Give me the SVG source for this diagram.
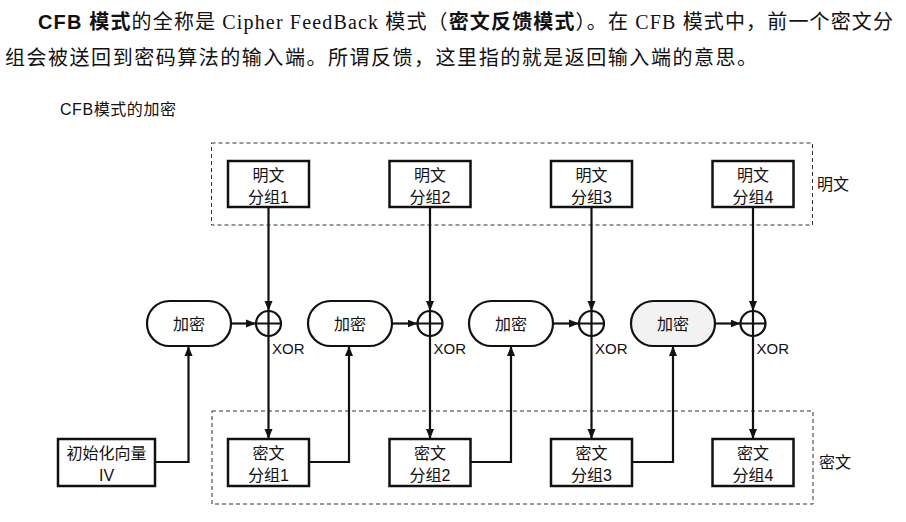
<svg xmlns="http://www.w3.org/2000/svg" width="906" height="522" viewBox="0 0 906 522">
<style>
.t{font-family:"Liberation Sans","Noto Sans CJK SC",sans-serif;fill:#111}
.p{font-family:"Liberation Serif","Noto Sans CJK SC",serif;font-size:20px;fill:#111}
.b{font-weight:bold;font-family:"Liberation Sans","Noto Sans CJK SC",sans-serif}
.box{fill:#fff;stroke:#111;stroke-width:2.5}
.enc{fill:#fff;stroke:#111;stroke-width:2.2}
.dash{fill:none;stroke:#333;stroke-width:1;stroke-dasharray:4 3}
.ln{fill:none;stroke:#111;stroke-width:2.2}
.lbl{font-size:16px;text-anchor:middle}
</style>
<defs>
<marker id="ah" viewBox="0 0 10 10" refX="10" refY="5" markerWidth="10" markerHeight="10" markerUnits="userSpaceOnUse" orient="auto">
<path d="M0,1 L10,5 L0,9 Z" fill="#111"/>
</marker>
</defs>
<rect width="906" height="522" fill="#fff"/>
<text class="p" x="38" y="29" textLength="855" lengthAdjust="spacing"><tspan class="b">CFB 模式</tspan>的全称是 Cipher FeedBack 模式（<tspan class="b">密文反馈模式</tspan>）。在 CFB 模式中，前一个密文分</text>
<text class="p" x="5" y="65" textLength="752" lengthAdjust="spacing">组会被送回到密码算法的输入端。所谓反馈，这里指的就是返回输入端的意思。</text>
<text class="t" x="60" y="115" font-size="16" textLength="116" lengthAdjust="spacing">CFB模式的加密</text>

<rect class="dash" x="211.5" y="143" width="601" height="82"/>
<rect class="dash" x="212" y="411" width="601" height="93"/>
<text class="t" x="817" y="190" font-size="16">明文</text>
<text class="t" x="819" y="468" font-size="16">密文</text>

<g id="connectors">
<path class="ln" d="M268.5,207 V311" marker-end="url(#ah)"/>
<path class="ln" d="M430,207 V311" marker-end="url(#ah)"/>
<path class="ln" d="M591.5,207 V311" marker-end="url(#ah)"/>
<path class="ln" d="M753,207 V311" marker-end="url(#ah)"/>
<path class="ln" d="M268.5,336 V439" marker-end="url(#ah)"/>
<path class="ln" d="M430,336 V439" marker-end="url(#ah)"/>
<path class="ln" d="M591.5,336 V439" marker-end="url(#ah)"/>
<path class="ln" d="M753,336 V439" marker-end="url(#ah)"/>
<path class="ln" d="M231,323.5 H256" marker-end="url(#ah)"/>
<path class="ln" d="M392,323.5 H417.5" marker-end="url(#ah)"/>
<path class="ln" d="M553,323.5 H579" marker-end="url(#ah)"/>
<path class="ln" d="M715,323.5 H740.5" marker-end="url(#ah)"/>
<path class="ln" d="M155,462 H188.5 V346" marker-end="url(#ah)"/>
<path class="ln" d="M309,462 H349 V346" marker-end="url(#ah)"/>
<path class="ln" d="M470,462 H511 V346" marker-end="url(#ah)"/>
<path class="ln" d="M632,462 H673 V346" marker-end="url(#ah)"/>
</g>

<g id="p1"><rect class="box" x="228" y="161" width="81" height="46"/><text class="t lbl" x="268.5" y="181">明文</text><text class="t lbl" x="268.5" y="203">分组1</text></g>
<g id="p2"><rect class="box" x="389.5" y="161" width="81" height="46"/><text class="t lbl" x="430" y="181">明文</text><text class="t lbl" x="430" y="203">分组2</text></g>
<g id="p3"><rect class="box" x="551" y="161" width="81" height="46"/><text class="t lbl" x="591.5" y="181">明文</text><text class="t lbl" x="591.5" y="203">分组3</text></g>
<g id="p4"><rect class="box" x="712.5" y="161" width="81" height="46"/><text class="t lbl" x="753" y="181">明文</text><text class="t lbl" x="753" y="203">分组4</text></g>

<g id="e1"><rect class="enc" x="147" y="301" width="84" height="45" rx="22.5"/><text class="t lbl" x="189" y="330">加密</text></g>
<g id="e2"><rect class="enc" x="308" y="301" width="84" height="45" rx="22.5"/><text class="t lbl" x="350" y="330">加密</text></g>
<g id="e3"><rect class="enc" x="469" y="301" width="84" height="45" rx="22.5"/><text class="t lbl" x="511" y="330">加密</text></g>
<g id="e4"><rect class="enc" x="631" y="301" width="84" height="45" rx="22.5" style="fill:#f2f2f2"/><text class="t lbl" x="673" y="330">加密</text></g>

<g id="x1"><circle class="enc" cx="268.5" cy="323.5" r="12.5"/><path class="ln" d="M256,323.5 H281 M268.5,311 V336"/><text class="t" x="272" y="354" font-size="15">XOR</text></g>
<g id="x2"><circle class="enc" cx="430" cy="323.5" r="12.5"/><path class="ln" d="M417.5,323.5 H442.5 M430,311 V336"/><text class="t" x="433.5" y="354" font-size="15">XOR</text></g>
<g id="x3"><circle class="enc" cx="591.5" cy="323.5" r="12.5"/><path class="ln" d="M579,323.5 H604 M591.5,311 V336"/><text class="t" x="595" y="354" font-size="15">XOR</text></g>
<g id="x4"><circle class="enc" cx="753" cy="323.5" r="12.5"/><path class="ln" d="M740.5,323.5 H765.5 M753,311 V336"/><text class="t" x="756.5" y="354" font-size="15">XOR</text></g>

<g id="iv"><rect class="box" x="58" y="439" width="97" height="47"/><text class="t lbl" x="106.5" y="459">初始化向量</text><text class="t lbl" x="106.5" y="481">IV</text></g>
<g id="c1"><rect class="box" x="228" y="439" width="81" height="47"/><text class="t lbl" x="268.5" y="459">密文</text><text class="t lbl" x="268.5" y="481">分组1</text></g>
<g id="c2"><rect class="box" x="389.5" y="439" width="81" height="47"/><text class="t lbl" x="430" y="459">密文</text><text class="t lbl" x="430" y="481">分组2</text></g>
<g id="c3"><rect class="box" x="551" y="439" width="81" height="47"/><text class="t lbl" x="591.5" y="459">密文</text><text class="t lbl" x="591.5" y="481">分组3</text></g>
<g id="c4"><rect class="box" x="712.5" y="439" width="81" height="47"/><text class="t lbl" x="753" y="459">密文</text><text class="t lbl" x="753" y="481">分组4</text></g>
</svg>
